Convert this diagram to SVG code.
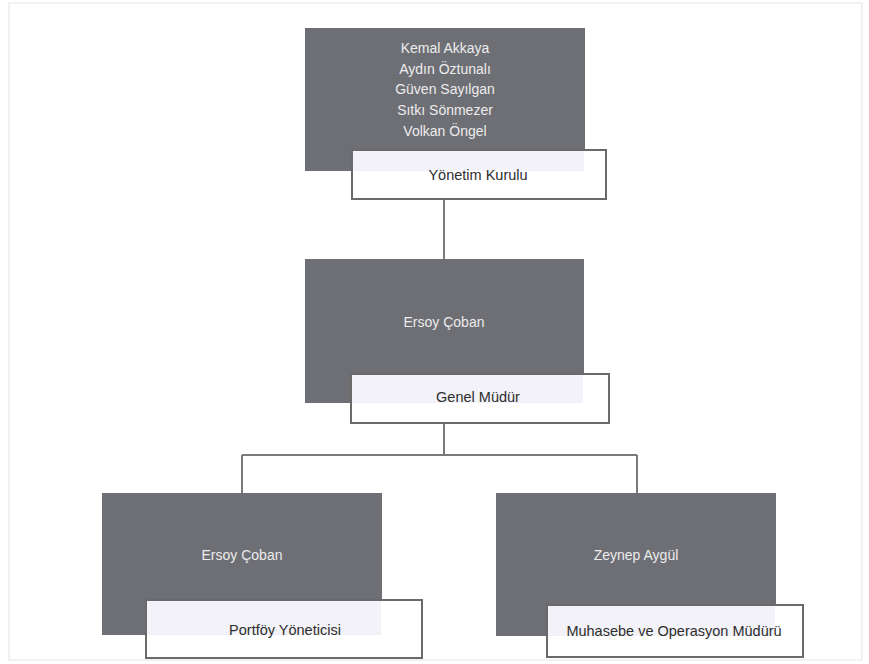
<svg xmlns="http://www.w3.org/2000/svg" width="869" height="664" viewBox="0 0 869 664">
<defs>
<style>
.dark{fill:#6e6f75}
.lbl{fill:#ffffff;stroke:#6a6a6a;stroke-width:2}
.tint{fill:#f2f2f8}
.name{font-family:"Liberation Sans",Arial,sans-serif;font-size:14px;fill:#ececec;text-anchor:middle}
.title{font-family:"Liberation Sans",Arial,sans-serif;font-size:14.5px;fill:#2e2e2e;text-anchor:middle}
.conn{fill:none;stroke:#7a7a7a;stroke-width:2}
</style>
</defs>
<rect x="0" y="0" width="869" height="664" fill="#ffffff"/>
<rect x="9" y="3" width="853" height="657" fill="none" stroke="#e4e4e4" stroke-width="1"/>
<g id="connectors">
<path class="conn" d="M444 199 V259"/>
<path class="conn" d="M444 423 V455 M242 455 H637 M242 455 V493 M637 455 V493"/>
</g>
<g id="node-yonetim-kurulu">
<rect class="dark" x="305" y="28" width="280" height="143"/>
<rect class="lbl" x="352" y="150" width="254" height="49"/>
<rect class="tint" x="353" y="151" width="231" height="20"/>
<text class="name" x="445" y="53">Kemal Akkaya</text>
<text class="name" x="445" y="74">Aydın Öztunalı</text>
<text class="name" x="445" y="94">Güven Sayılgan</text>
<text class="name" x="445" y="115">Sıtkı Sönmezer</text>
<text class="name" x="445" y="136">Volkan Öngel</text>
<text class="title" x="478" y="180">Yönetim Kurulu</text>
</g>
<g id="node-genel-mudur">
<rect class="dark" x="305" y="259" width="279" height="144"/>
<rect class="lbl" x="351" y="374" width="258" height="49"/>
<rect class="tint" x="352" y="375" width="231" height="28"/>
<text class="name" x="444" y="327">Ersoy Çoban</text>
<text class="title" x="478" y="402">Genel Müdür</text>
</g>
<g id="node-portfoy-yoneticisi">
<rect class="dark" x="102" y="493" width="280" height="142"/>
<rect class="lbl" x="146" y="600" width="276" height="58"/>
<rect class="tint" x="147" y="601" width="234" height="34"/>
<text class="name" x="242" y="560">Ersoy Çoban</text>
<text class="title" x="285" y="635">Portföy Yöneticisi</text>
</g>
<g id="node-muhasebe">
<rect class="dark" x="496" y="493" width="280" height="143"/>
<rect class="lbl" x="547" y="605" width="256" height="52"/>
<rect class="tint" x="548" y="606" width="227" height="30"/>
<text class="name" x="636" y="560">Zeynep Aygül</text>
<text class="title" x="674" y="636">Muhasebe ve Operasyon Müdürü</text>
</g>
</svg>
